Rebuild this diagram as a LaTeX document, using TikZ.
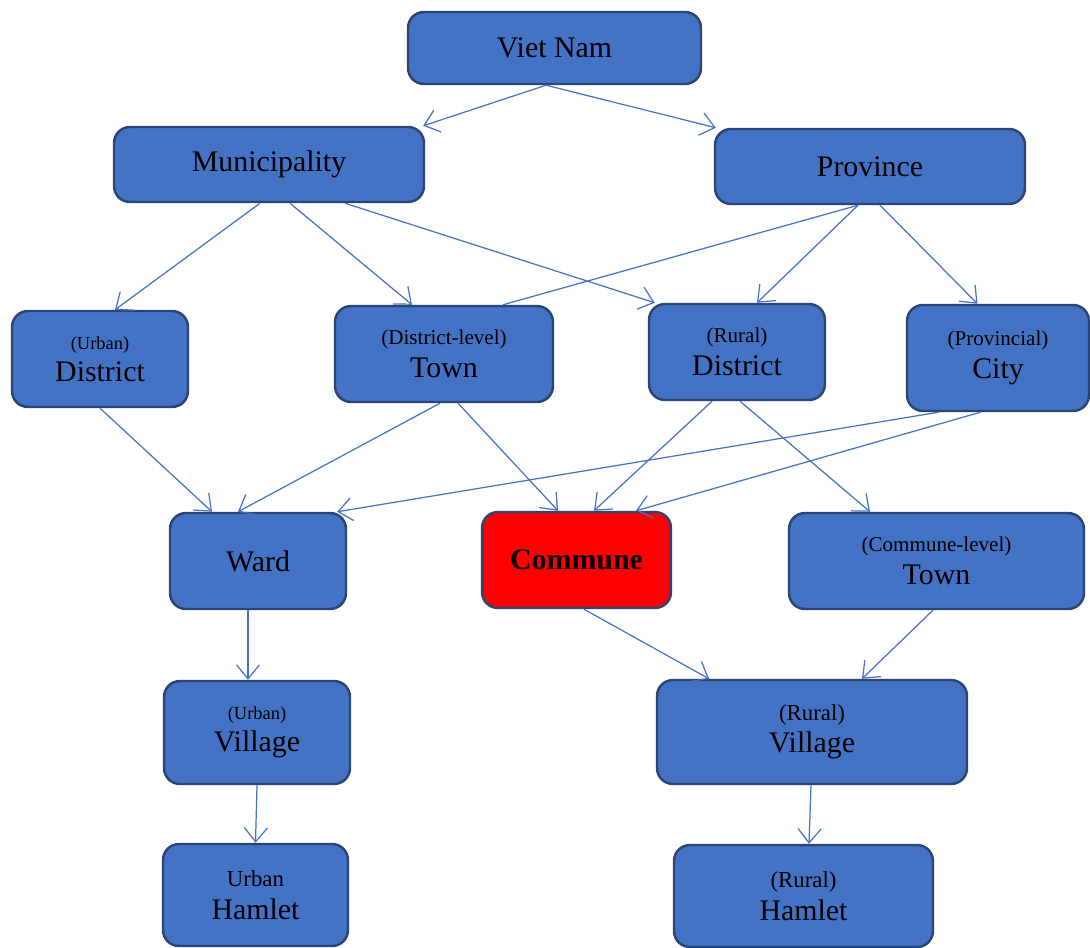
\documentclass[tikz,border=0pt]{standalone}
\usepackage{fontspec}
\setmainfont{Liberation Serif}
\usepackage{tikz}
\usetikzlibrary{positioning,arrows.meta}

\definecolor{unitblue}{HTML}{4472C4}
\definecolor{unitedge}{HTML}{2B4674}
\definecolor{unitred}{HTML}{FF0000}

\newcommand{\unitnote}[2][12]{{\fontsize{#1}{#1}\selectfont #2}}

\tikzset{
	unit/.style={draw=unitedge, fill=unitblue, line width=1.4pt, rounded corners=0.32cm,
		align=center, inner sep=2pt, font=\fontsize{17}{18.5}\selectfont},
	link/.style={draw=unitblue, line width=0.7pt, -{Straight Barb[length=2.8mm,width=4.6mm]}},
	plainlink/.style={draw=unitblue, line width=0.7pt},
}

\begin{document}
\begin{tikzpicture}
	\useasboundingbox (0,0) rectangle (21.8,-18.94);
	%% level 0
	\node[unit, minimum width=5.86cm, minimum height=1.44cm] (vn) at (11.09,-0.96) {Viet Nam};
	%% level 1
	\node[unit, minimum width=6.2cm, minimum height=1.5cm] (muni) at (5.38,-3.29) {Municipality};
	\node[unit, minimum width=6.2cm, minimum height=1.5cm] (prov) at (17.40,-3.33) {Province};
	%% level 2
	\node[unit, minimum width=3.52cm, minimum height=1.92cm] (udist) at (2.00,-7.18) {\unitnote[10.5]{(Urban)}\\District};
	\node[unit, minimum width=4.36cm, minimum height=1.92cm] (dtown) at (8.88,-7.08) {\unitnote{(District-level)}\\Town};
	\node[unit, minimum width=3.52cm, minimum height=1.92cm] (rdist) at (14.74,-7.04) {\unitnote{(Rural)}\\District};
	\node[unit, minimum width=3.64cm, minimum height=2.12cm] (city) at (19.96,-7.16) {\unitnote{(Provincial)}\\City};
	%% level 3
	\node[unit, minimum width=3.52cm, minimum height=1.92cm] (ward) at (5.16,-11.22) {Ward};
	\node[unit, fill=unitred, minimum width=3.78cm, minimum height=1.92cm] (commune) at (11.53,-11.20) {\textbf{Commune}};
	\node[unit, minimum width=5.9cm, minimum height=1.92cm] (ctown) at (18.73,-11.22) {\unitnote{(Commune-level)}\\Town};
	%% level 4
	\node[unit, minimum width=3.72cm, minimum height=2.06cm] (uvill) at (5.14,-14.65) {\unitnote[10.5]{(Urban)}\\Village};
	\node[unit, minimum width=6.2cm, minimum height=2.08cm] (rvill) at (16.24,-14.64) {\unitnote[13]{(Rural)}\\Village};
	%% level 5
	\node[unit, minimum width=3.7cm, minimum height=2.04cm] (uham) at (5.11,-17.90) {\unitnote[13]{Urban}\\Hamlet};
	\node[unit, minimum width=5.18cm, minimum height=2.04cm] (rham) at (16.07,-17.92) {\unitnote[13]{(Rural)}\\Hamlet};
	% connectors
	\draw[link] ([xshift=-0.17cm]vn.south) -- ([xshift=-0.04cm]muni.north east);
	\draw[link] ([xshift=-0.17cm]vn.south) -- ([xshift=0.04cm]prov.north west);
	\draw[link] ([xshift=-0.18cm]muni.south) -- ([xshift=0.3cm]udist.north);
	\draw[link] ([xshift=0.42cm]muni.south) -- ([xshift=-0.64cm]dtown.north);
	\draw[link] ([xshift=1.52cm]muni.south) -- ([xshift=0.14cm]rdist.north west);
	\draw[plainlink] ([xshift=-0.24cm]prov.south) -- ([xshift=1.18cm]dtown.north);
	\draw[link] ([xshift=-0.24cm]prov.south) -- ([xshift=0.4cm]rdist.north);
	\draw[link] ([xshift=0.2cm]prov.south) -- ([xshift=-0.41cm]city.north);
	\draw[link] (udist.south) -- ([xshift=-0.92cm]ward.north);
	\draw[link] ([xshift=-0.08cm]dtown.south) -- ([xshift=-0.4cm]ward.north);
	\draw[link] ([xshift=0.28cm]dtown.south) -- ([xshift=-0.37cm]commune.north);
	\draw[link] ([xshift=-0.5cm]rdist.south) -- ([xshift=0.35cm]commune.north);
	\draw[link] ([xshift=0.06cm]rdist.south) -- ([xshift=-1.33cm]ctown.north);
	\draw[link] ([xshift=-1.19cm]city.south) -- ([xshift=-0.2cm]ward.north east);
	\draw[link] ([xshift=-0.35cm]city.south) -- ([xshift=1.19cm]commune.north);
	\draw[link] ([xshift=-0.2cm]ward.south) -- ([xshift=-0.18cm]uvill.north);
	\draw[link] ([xshift=0.15cm]commune.south) -- ([xshift=-2.06cm]rvill.north);
	\draw[link] ([xshift=-0.07cm]ctown.south) -- ([xshift=1.0cm]rvill.north);
	\draw[link] (uvill.south) -- (uham.north);
	\draw[link] ([xshift=-0.02cm]rvill.south) -- ([xshift=0.11cm]rham.north);
\end{tikzpicture}
\end{document}
